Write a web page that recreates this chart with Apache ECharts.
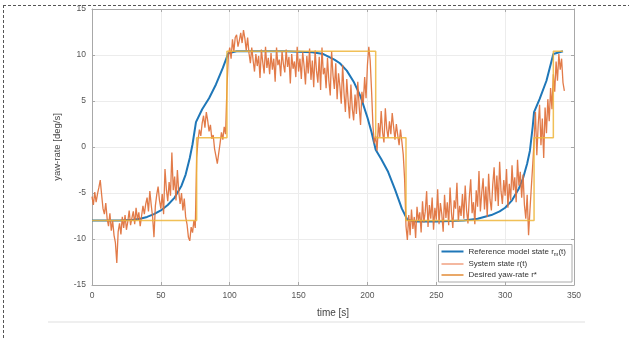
<!doctype html>
<html>
<head>
<meta charset="UTF-8">
<title>yaw-rate</title>
<script src="https://cdn.jsdelivr.net/npm/echarts@6/dist/echarts.min.js"></script>
<style>
  html, body { margin: 0; padding: 0; background: #fff; }
  #chart { width: 629px; height: 338px; }
</style>
</head>
<body>
<div id="chart"></div>
<script>
// axis ticks
var xTicks = [0, 50, 100, 150, 200, 250, 300, 350];
var yTicks = [-15, -10, -5, 0, 5, 10, 15];

// legend names
var seriesNames = ['Reference model state r_m(t)', 'System state r(t)', 'Desired yaw-rate r*'];

// reference model state (time, value)
var refTime = [0, 10, 20, 30, 35, 40, 45, 50, 55, 60,
  65, 68, 71, 73, 75.5, 80, 85, 90, 95, 99,
  105, 120, 140, 160, 168, 172, 176, 180, 185, 190,
  195, 200, 203, 206, 210, 215, 220, 225, 229, 235,
  250, 270, 280, 290, 296, 300, 305, 310, 313, 316,
  318, 320, 321, 325, 330, 335, 342];
var refValue = [-8, -8, -8, -7.9, -7.8, -7.6, -7.3, -6.9, -6.3, -5.5,
  -4.2, -3.0, -1.2, 0.3, 2.7, 4.1, 5.3, 6.8, 8.6, 10.2,
  10.4, 10.4, 10.4, 10.3, 10.1, 9.8, 9.5, 9.1, 8.3, 7.1,
  5.5, 3.2, 1.6, -0.3, -1.3, -2.7, -4.6, -6.7, -7.9, -8.1,
  -8.1, -8, -7.8, -7.4, -7.0, -6.6, -5.8, -4.5, -3.4, -1.8,
  -0.4, 2.2, 3.8, 5.2, 7.2, 10.1, 10.4];

// system state, one sample per second from t = 0
var sysStep = 1;
var sysValue = [
  -5.4, -6.3, -4.9, -6.0, -5.1, -4.4, -3.6, -5.2, -6.7, -7.3,
  -6.1, -7.8, -8.6, -7.2, -9.1, -8.0, -9.6, -10.4, -12.6, -9.2,
  -8.3, -9.5, -7.6, -8.8, -7.4, -9.0, -8.1, -6.9, -8.5, -7.7,
  -7.0, -8.4, -6.6, -7.9, -7.1, -8.6, -7.5, -6.4, -7.3, -6.2,
  -5.5, -7.0, -4.8, -6.3, -7.6, -9.8, -6.4, -5.2, -4.3, -5.8,
  -6.7, -5.1, -7.3, -2.4, -4.6, -5.9, -3.8, -5.3, -0.6, -4.7,
  -3.2, -5.8, -2.5, -4.9, -6.2, -5.0, -6.9, -5.6, -7.6, -8.4,
  -9.8, -10.2, -8.7, -9.3, -8.0, -8.8, -1.2, 0.8, 1.9, 1.2,
  2.6, 3.4, 2.1, 3.8, 2.9, 1.7, 2.4, 0.9, 1.3, -0.2,
  -1.0, -1.8, -0.7, 0.4, 1.6, 0.8, 2.2, 1.4, 6.5, 9.8,
  10.8, 9.6, 11.7, 10.4, 11.9, 12.2, 10.9, 11.6, 12.4, 11.3,
  12.7, 11.8, 10.5, 11.9, 10.2, 9.1, 10.8, 9.4, 8.2, 10.1,
  8.8, 9.9, 7.5, 10.6, 9.2, 8.0, 10.9, 8.6, 9.7, 7.9,
  10.2, 8.4, 9.6, 7.1, 10.8, 8.9, 9.5, 7.7, 10.4, 9.0,
  8.1, 10.6, 8.7, 9.8, 6.9, 10.1, 8.5, 9.3, 7.6, 10.9,
  8.2, 9.6, 7.4, 10.3, 8.8, 6.8, 9.9, 8.0, 10.7, 7.3,
  9.4, 6.5, 10.5, 8.3, 7.0, 9.8, 6.2, 10.8, 7.9, 8.6,
  6.4, 9.7, 7.2, 5.6, 10.4, 7.8, 6.3, 9.1, 5.2, 8.0,
  6.6, 4.7, 8.9, 5.9, 3.8, 7.4, 5.0, 3.1, 6.8, 4.2,
  2.9, 5.7, 3.6, 7.1, 4.4, 2.4, 6.0, 4.8, 7.6, 5.3,
  8.9, 10.9, 9.4, 6.1, 2.3, 0.4, 1.2, -0.4, 2.6, 1.1,
  3.9, 1.6, 0.5, 4.2, 2.0, 1.0, 2.8, 1.4, 3.7, 2.2,
  0.8, 2.5, 1.3, 0.2, 1.9, 0.6, -0.8, -3.5, -8.6, -10.1,
  -7.4, -9.6, -6.8, -8.9, -7.6, -9.9, -6.5, -8.0, -7.1, -9.3,
  -5.9, -8.2, -7.0, -4.8, -8.7, -6.3, -7.8, -5.5, -9.0, -6.6,
  -7.9, -4.6, -8.4, -6.1, -7.3, -9.2, -5.2, -7.7, -6.0, -8.5,
  -4.4, -7.1, -8.8, -5.8, -6.7, -3.9, -8.1, -6.4, -7.5, -5.1,
  -7.8, -4.2, -6.9, -8.3, -5.4, -3.5, -7.2, -6.0, -8.4, -4.7,
  -6.5, -2.6, -7.0, -5.0, -3.4, -6.8, -4.3, -7.6, -2.9, -5.7,
  -6.9, -4.1, -2.2, -5.9, -3.1, -6.4, -1.6, -4.8, -6.2, -3.6,
  -5.3, -2.4, -6.6, -4.0, -5.8, -2.0, -4.7, -3.3, -6.0, -1.4,
  -4.2, -2.7, -5.5, -3.0, -6.3, -7.8, -5.2, -9.6, -6.9, -4.4,
  -2.0, 0.6, 3.8, -0.9, 2.4, 4.6, 0.2, 3.1, -1.2, 4.3,
  1.5, 5.2, 2.8, 6.4, 4.1, 7.9, 6.0, 9.3, 7.2, 10.1,
  8.4, 9.6, 7.0, 6.1
];

// desired yaw-rate (step corners)
var desTime = [0, 76, 76, 98, 98, 206, 206, 228, 228, 321, 321, 335, 335, 342];
var desValue = [-8, -8, 1, 1, 10.4, 10.4, 1, 1, -8, -8, 1, 1, 10.4, 10.4];

function pairs(xs, ys) {
  var out = [];
  for (var i = 0; i < ys.length; i++) out.push([xs[i], ys[i]]);
  return out;
}
var sysTime = sysValue.map(function (v, i) { return i * sysStep; });

var labelColor = '#555';
var frameColor = '#a8a8a8';
var gridColor = '#ececec';

function xAxisCfg(pos, showLabel) {
  return {
    type: 'value', position: pos, min: xTicks[0], max: xTicks[xTicks.length - 1], interval: 50,
    name: showLabel ? 'time [s]' : '', nameLocation: 'middle', nameGap: 23,
    nameTextStyle: { fontSize: 10, color: '#444', fontFamily: 'Liberation Sans' },
    axisLine: { show: true, onZero: false, lineStyle: { color: frameColor, width: 1 } },
    axisTick: { show: true, inside: true, length: 3, lineStyle: { color: frameColor } },
    axisLabel: { show: showLabel, fontSize: 8.5, color: labelColor, margin: 6, fontFamily: 'Liberation Sans' },
    splitLine: { show: showLabel, lineStyle: { color: gridColor, width: 1 } }
  };
}
function yAxisCfg(pos, showLabel) {
  return {
    type: 'value', position: pos, min: yTicks[0], max: yTicks[yTicks.length - 1], interval: 5,
    name: showLabel ? 'yaw-rate [deg/s]' : '', nameLocation: 'middle', nameGap: 22,
    nameTextStyle: { fontSize: 9.5, color: '#444', fontFamily: 'Liberation Sans' },
    axisLine: { show: true, onZero: false, lineStyle: { color: frameColor, width: 1 } },
    axisTick: { show: true, inside: true, length: 3, lineStyle: { color: frameColor } },
    axisLabel: { show: showLabel, fontSize: 8.5, color: labelColor, margin: 6, fontFamily: 'Liberation Sans' },
    splitLine: { show: showLabel, lineStyle: { color: gridColor, width: 1 } }
  };
}

var chart = echarts.init(document.getElementById('chart'), null, { renderer: 'canvas' });
chart.setOption({
  animation: false,
  backgroundColor: '#fff',
  grid: { left: 92, right: 55, top: 9, bottom: 53 },
  xAxis: [xAxisCfg('bottom', true), xAxisCfg('top', false)],
  yAxis: [yAxisCfg('left', true), yAxisCfg('right', false)],
  legend: {
    data: seriesNames,
    orient: 'vertical',
    right: 57, bottom: 56,
    itemWidth: 22, itemHeight: 2, itemGap: 3,
    icon: 'rect',
    padding: [3, 6, 3, 3],
    backgroundColor: '#fff',
    borderColor: '#aaa', borderWidth: 1, borderRadius: 0,
    textStyle: {
      fontSize: 8, color: '#333', fontFamily: 'Liberation Sans',
      rich: {
        t: { fontSize: 8, color: '#333', fontFamily: 'Liberation Sans' },
        s: { fontSize: 5.5, color: '#333', fontFamily: 'Liberation Sans', padding: [5, 0, 0, 0] }
      }
    },
    formatter: function (name) {
      if (name.indexOf('r_m') >= 0) return '{t|Reference model state r}{s|m}{t|(t)}';
      return name;
    }
  },
  graphic: [
    { type: 'line', shape: { x1: 3, y1: 5.5, x2: 629, y2: 5.5 }, style: { stroke: '#555', lineWidth: 1, lineDash: [3, 2] }, z: 100 },
    { type: 'line', shape: { x1: 3.5, y1: 5, x2: 3.5, y2: 338 }, style: { stroke: '#555', lineWidth: 1, lineDash: [3, 2] }, z: 100 },
    { type: 'line', shape: { x1: 48, y1: 322, x2: 585, y2: 322 }, style: { stroke: '#efefef', lineWidth: 2 }, z: 0 }
  ],
  series: [
    {
      name: seriesNames[0], type: 'line', data: pairs(refTime, refValue),
      showSymbol: false, symbol: 'none', z: 2,
      lineStyle: { color: '#1f77b8', width: 2 }, itemStyle: { color: '#1f77b8' }
    },
    {
      name: seriesNames[1], type: 'line', data: pairs(sysTime, sysValue),
      showSymbol: false, symbol: 'none', z: 3,
      lineStyle: { color: '#e0703a', width: 1.3, opacity: 0.92 }, itemStyle: { color: '#f4b8a0' }
    },
    {
      name: seriesNames[2], type: 'line', data: pairs(desTime, desValue),
      showSymbol: false, symbol: 'none', z: 4,
      lineStyle: { color: '#efb53a', width: 1.5, opacity: 0.85 }, itemStyle: { color: '#e9a868' }
    }
  ]
});
</script>
</body>
</html>
